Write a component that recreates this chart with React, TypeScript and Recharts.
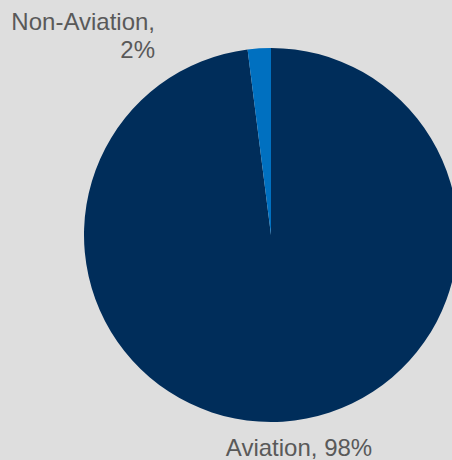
import { PieChart, Pie, Cell } from "recharts";

const CATEGORIES = ["Aviation", "Non-Aviation"];
const SHARES = [98, 2];
const COLORS = ["#002d5a", "#0070c0"];

const data = CATEGORIES.map((name, i) => ({ name, value: SHARES[i] }));

// Excel-ish data labels: "Name, pct%"
function renderLabel(props: any) {
  const { cx, cy, outerRadius, index } = props;
  const name = CATEGORIES[index];
  const pct = SHARES[index] + "%";
  const common = {
    fill: "#595959",
    fontSize: 24,
    fontFamily: "'Liberation Sans', Arial, sans-serif",
  };
  if (index === 1) {
    // small slice: label sits up-left, two lines, right aligned
    const x = cx - 116;
    const y = cy - outerRadius - 18;
    return (
      <text key={index} x={x} y={y} textAnchor="end" {...common}>
        <tspan x={x}>{name},</tspan>
        <tspan x={x} dy={28}>{pct}</tspan>
      </text>
    );
  }
  return (
    <text key={index} x={cx + 28} y={cy + outerRadius + 34} textAnchor="middle" {...common}>
      {name}, {pct}
    </text>
  );
}

export default function App() {
  return (
    <div
      style={{
        position: "absolute",
        left: 0,
        top: 0,
        width: 452,
        height: 460,
        background: "#dedede",
        overflow: "hidden",
      }}
    >
      <PieChart width={452} height={460} margin={{ top: 0, right: 0, bottom: 0, left: 0 }}>
        <Pie
          data={data}
          dataKey="value"
          nameKey="name"
          cx={271}
          cy={235}
          outerRadius={187}
          startAngle={90}
          endAngle={-270}
          stroke="none"
          label={renderLabel}
          labelLine={false}
          isAnimationActive={false}
        >
          {data.map((d, i) => (
            <Cell key={i} fill={COLORS[i]} />
          ))}
        </Pie>
      </PieChart>
    </div>
  );
}
